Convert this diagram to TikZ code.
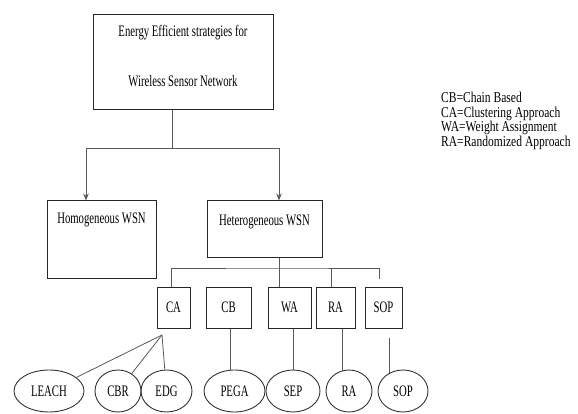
\documentclass[tikz,border=0pt]{standalone}
\usepackage{fontspec}
\setmainfont{Liberation Serif}[FakeStretch=0.77]
\newfontfamily\boxfont{Liberation Serif}[FakeStretch=0.67]
\usetikzlibrary{arrows.meta,shapes.geometric}
\begin{document}
\begin{tikzpicture}[x=1pt,y=-1pt,
    box/.style={draw=black!85,line width=1pt,inner sep=0pt},
    tag/.style={font=\boxfont\fontsize{16}{18}\selectfont,inner sep=0pt},
    tech/.style={box,tag,minimum height=41pt},
    oval/.style={ellipse,draw=black!80,line width=0.9pt,minimum height=42pt,inner sep=0pt,font=\boxfont\fontsize{16}{18}\selectfont},
    link/.style={draw=black!65,line width=0.8pt},
    arr/.style={link,-{Stealth[length=7pt,width=5.5pt]}}]
\useasboundingbox (0,0) rectangle (578,414);
\node[box,minimum width=180pt,minimum height=95pt] (top) at (183,62.5) {};
\node[tag] (toptxt1) at ([yshift=-18pt]top.north) {Energy Efficient strategies for};
\node[tag] (toptxt2) at ([yshift=-67pt]top.north) {Wireless Sensor Network};
\node[box,minimum width=109pt,minimum height=77pt] (homo) at (101.5,239.5) {};
\node[tag] (homotxt) at ([yshift=-19pt]homo.north) {Homogeneous WSN};
\node[box,minimum width=115pt,minimum height=56pt] (hetero) at (264.5,229) {};
\node[tag] (heterotxt) at ([yshift=-21pt]hetero.north) {Heterogeneous WSN};
\node[tech,minimum width=33pt] (ca) at (173.5,307.5) {CA};
\node[tech,minimum width=45pt] (cb) at (228.5,307.5) {CB};
\node[tech,minimum width=43pt] (wa) at (289.5,307.5) {WA};
\node[tech,minimum width=39pt] (ra) at (335.5,307.5) {RA};
\node[tech,minimum width=37pt] (sop) at (383.5,307.5) {SOP};
\node[oval,minimum width=70pt] (leach) at (49,391) {LEACH};
\node[oval,minimum width=46pt] (cbr) at (118,391) {CBR};
\node[oval,minimum width=51pt] (edg) at (166.5,391) {EDG};
\node[oval,minimum width=61pt] (pega) at (234.5,391) {PEGA};
\node[oval,minimum width=54pt] (sep) at (293,391) {SEP};
\node[oval,minimum width=46pt] (raov) at (349,391) {RA};
\node[oval,minimum width=50pt] (sopov) at (403,391) {SOP};
\node[anchor=north west,align=left,inner sep=0pt,font=\fontsize{15}{14.5}\selectfont] (legend) at (441,92)
    {CB=Chain Based\\CA=Clustering Approach\\WA=Weight Assignment\\RA=Randomized Approach};
\coordinate (split) at (172,148);
\coordinate (bus) at (279,268);
\coordinate (fork) at (162,335);
\draw[link] (top.south -| split) -- (split);
\draw[arr] (split) -| ([xshift=-15.5pt]homo.north);
\draw[arr] (split) -| ([xshift=14.5pt]hetero.north);
\draw[link] (hetero.south -| bus) -- (wa.north -| bus);
\draw[link] ([xshift=-2.5pt]ca.north) |- (bus) -| ([xshift=-4.5pt,yshift=8pt]sop.north);
\draw[link] ([xshift=-4.5pt]ra.north) -- ([xshift=-4.5pt]ra.north |- bus);
\draw[link] (fork) -- (leach);
\draw[link] (fork) -- (cbr);
\draw[link] (fork) -- (edg);
\draw[link] ([xshift=1.5pt]cb.south) -- ([xshift=1.5pt]cb.south |- pega.north);
\draw[link] ([xshift=3.5pt]wa.south) -- (sep.north);
\draw[link] ([xshift=6.5pt]ra.south) -- ([xshift=6.5pt,yshift=-1pt]ra.south |- raov.north);
\draw[link] ([xshift=5.5pt,yshift=-9pt]sop.south) -- ([xshift=5.5pt,yshift=-3pt]sop.south |- sopov.north);
\end{tikzpicture}
\end{document}
